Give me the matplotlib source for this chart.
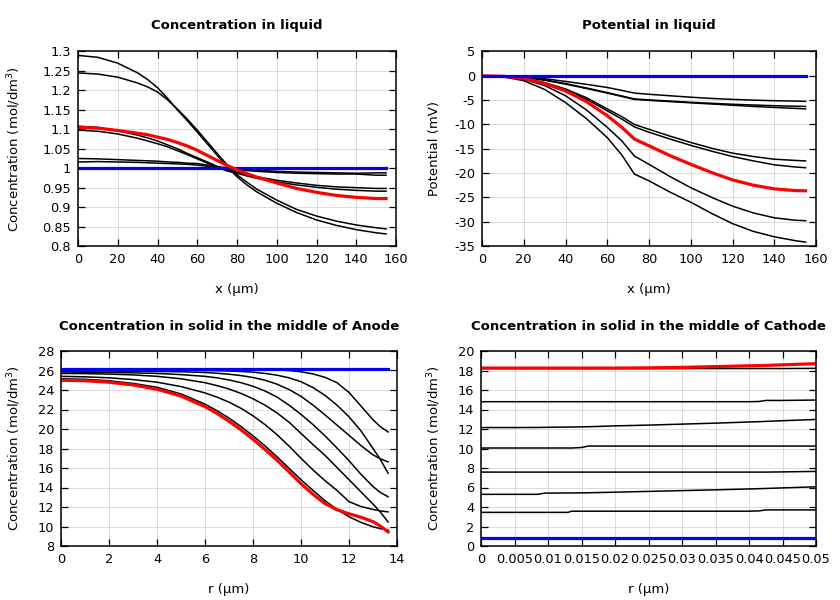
import matplotlib
matplotlib.use("Agg")
import matplotlib.pyplot as plt
from matplotlib.ticker import FormatStrFormatter, MultipleLocator

plt.rcParams['font.family'] = ['DejaVu Sans']
plt.rcParams['axes.unicode_minus'] = False

# ---------------- Concentration in liquid ----------------
liq_x = [0, 10, 20, 30, 35, 40, 45, 50, 55, 60, 65, 70, 75, 80, 85, 90, 100, 110, 120, 130, 140, 150, 155]
liq_blue = [1.0] * len(liq_x)
liq_red = [1.105, 1.103, 1.097, 1.09, 1.086, 1.08, 1.074, 1.066, 1.057, 1.046, 1.033, 1.02, 1.007, 0.996, 0.986, 0.977, 0.962, 0.948, 0.938, 0.93, 0.925, 0.922, 0.922]
liq_black = [
    [1.29, 1.285, 1.27, 1.245, 1.228, 1.207, 1.18, 1.15, 1.122, 1.093, 1.063, 1.033, 1.004, 0.978, 0.957, 0.939, 0.91, 0.886, 0.867, 0.853, 0.842, 0.834, 0.831],
    [1.245, 1.242, 1.234, 1.219, 1.209, 1.196, 1.176, 1.152, 1.126, 1.098, 1.068, 1.038, 1.009, 0.983, 0.964, 0.946, 0.918, 0.894, 0.877, 0.864, 0.854, 0.847, 0.844],
    [1.108, 1.105, 1.096, 1.085, 1.078, 1.07, 1.06, 1.05, 1.038, 1.027, 1.016, 1.005, 0.996, 0.99, 0.984, 0.978, 0.969, 0.962, 0.956, 0.952, 0.95, 0.948, 0.948],
    [1.098, 1.095, 1.088, 1.077, 1.07, 1.063, 1.055, 1.045, 1.035, 1.024, 1.013, 1.002, 0.993, 0.987, 0.98, 0.974, 0.965, 0.957, 0.951, 0.946, 0.943, 0.941, 0.941],
    [1.025, 1.024, 1.022, 1.02, 1.019, 1.018, 1.016, 1.015, 1.013, 1.012, 1.008, 1.004, 1.001, 0.998, 0.996, 0.995, 0.992, 0.99, 0.989, 0.988, 0.987, 0.988, 0.988],
    [1.016, 1.017, 1.016, 1.015, 1.014, 1.013, 1.012, 1.011, 1.01, 1.008, 1.005, 1.002, 0.999, 0.996, 0.994, 0.992, 0.989, 0.987, 0.986, 0.985, 0.985, 0.982, 0.982],
]

# ---------------- Potential in liquid ----------------
pot_x = [0, 10, 20, 30, 40, 50, 60, 67, 73, 80, 90, 100, 110, 120, 130, 140, 150, 155]
pot_blue = [0.0] * len(pot_x)
pot_red = [0, -0.1, -0.5, -1.6, -3.1, -5.3, -8.2, -10.6, -13.0, -14.4, -16.4, -18.2, -19.9, -21.4, -22.5, -23.25, -23.6, -23.65]
pot_black = [
    [0, -0.02, -0.2, -0.6, -1.15, -1.75, -2.4, -3.0, -3.55, -3.8, -4.1, -4.4, -4.65, -4.85, -5.0, -5.12, -5.2, -5.25],
    [0, -0.05, -0.3, -0.85, -1.6, -2.5, -3.45, -4.15, -4.75, -4.95, -5.2, -5.45, -5.65, -5.85, -6.0, -6.15, -6.25, -6.3],
    [0, -0.05, -0.32, -0.9, -1.7, -2.6, -3.55, -4.25, -4.85, -5.05, -5.3, -5.55, -5.8, -6.05, -6.3, -6.5, -6.7, -6.8],
    [0, -0.1, -0.5, -1.4, -2.7, -4.5, -6.8, -8.4, -10.0, -11.0, -12.4, -13.7, -14.9, -15.9, -16.6, -17.15, -17.4, -17.5],
    [0, -0.1, -0.55, -1.5, -2.9, -4.8, -7.2, -8.9, -10.5, -11.6, -13.0, -14.3, -15.5, -16.6, -17.5, -18.3, -18.75, -18.9],
    [0, -0.15, -0.7, -2.0, -4.1, -7.0, -10.6, -13.4, -16.5, -18.2, -20.7, -23.0, -25.0, -26.8, -28.2, -29.2, -29.7, -29.8],
    [0, -0.2, -1.0, -2.8, -5.5, -8.8, -12.7, -16.3, -20.2, -21.6, -23.9, -26.0, -28.3, -30.4, -32.0, -33.1, -33.9, -34.2],
]

# ---------------- Concentration in solid, anode ----------------
an_x = [0, 1, 2, 3, 4, 5, 6, 6.5, 7, 7.5, 8, 8.5, 9, 9.5, 10, 10.5, 11, 11.5, 12, 12.5, 13, 13.3, 13.63]
an_blue = [26.15] * len(an_x)
an_red = [25.0, 24.95, 24.8, 24.52, 24.08, 23.38, 22.3, 21.6, 20.8, 19.92, 18.95, 17.9, 16.8, 15.6, 14.4, 13.3, 12.35, 11.72, 11.3, 10.95, 10.5, 10.05, 9.45]
an_black = [
    [26.12, 26.12, 26.12, 26.12, 26.12, 26.12, 26.12, 26.12, 26.11, 26.11, 26.1, 26.08, 26.05, 26.0, 25.87, 25.65, 25.3, 24.75, 23.75, 22.35, 20.95, 20.25, 19.7],
    [26.05, 26.05, 26.05, 26.05, 26.05, 26.03, 26.0, 25.98, 25.95, 25.9, 25.83, 25.7, 25.52, 25.25, 24.85, 24.25, 23.45, 22.45, 21.25, 19.8, 18.0, 16.9, 15.46],
    [25.95, 25.95, 25.95, 25.93, 25.9, 25.87, 25.8, 25.72, 25.62, 25.48, 25.28, 25.0, 24.6, 24.05, 23.35, 22.45, 21.45, 20.4, 19.35, 18.3, 17.35, 16.95, 16.62],
    [25.85, 25.83, 25.8, 25.76, 25.7, 25.58, 25.4, 25.25, 25.03, 24.75, 24.38, 23.9, 23.28, 22.45, 21.5, 20.45, 19.3, 18.05, 16.75, 15.35, 14.1, 13.5, 13.05],
    [25.7, 25.68, 25.63, 25.55, 25.4, 25.15, 24.75, 24.45, 24.1, 23.65, 23.1, 22.45, 21.65, 20.7, 19.55, 18.4, 17.3, 16.05, 14.8, 13.55, 12.3, 11.5, 10.47],
    [25.4, 25.35, 25.25, 25.07, 24.8, 24.35, 23.7, 23.27, 22.75, 22.12, 21.35, 20.45, 19.42, 18.25, 17.0, 15.8, 14.7, 13.7, 12.55, 12.05, 11.75, 11.6, 11.5],
    [25.15, 25.1, 24.95, 24.68, 24.28, 23.6, 22.55, 21.88, 21.12, 20.25, 19.3, 18.27, 17.15, 15.97, 14.8, 13.7, 12.65, 11.75, 11.0, 10.42, 9.97, 9.78, 9.62],
]

# ---------------- Concentration in solid, cathode ----------------
ca_x = [0, 0.005, 0.0085, 0.0095, 0.013, 0.0135, 0.015, 0.016, 0.02, 0.025, 0.03, 0.035, 0.04, 0.0415, 0.0425, 0.045, 0.05]
ca_blue = [0.85] * len(ca_x)
ca_red = [18.25, 18.25, 18.25, 18.25, 18.25, 18.25, 18.25, 18.25, 18.25, 18.27, 18.32, 18.4, 18.48, 18.5, 18.52, 18.58, 18.7]
ca_black = [
    [18.2, 18.2, 18.2, 18.2, 18.2, 18.2, 18.2, 18.2, 18.2, 18.2, 18.2, 18.2, 18.2, 18.2, 18.2, 18.2, 18.22],
    [14.8, 14.8, 14.8, 14.8, 14.8, 14.8, 14.8, 14.8, 14.8, 14.8, 14.8, 14.8, 14.8, 14.82, 14.93, 14.93, 14.97],
    [12.15, 12.15, 12.16, 12.17, 12.2, 12.2, 12.22, 12.23, 12.32, 12.4, 12.5, 12.6, 12.72, 12.75, 12.78, 12.85, 12.98],
    [10.05, 10.05, 10.05, 10.05, 10.05, 10.05, 10.1, 10.25, 10.25, 10.25, 10.25, 10.25, 10.25, 10.25, 10.25, 10.25, 10.25],
    [7.58, 7.58, 7.58, 7.58, 7.58, 7.58, 7.58, 7.58, 7.58, 7.58, 7.58, 7.58, 7.58, 7.58, 7.58, 7.6, 7.65],
    [5.3, 5.3, 5.3, 5.42, 5.44, 5.44, 5.45, 5.46, 5.52, 5.6, 5.68, 5.76, 5.85, 5.88, 5.9, 5.96, 6.07],
    [3.45, 3.45, 3.45, 3.45, 3.45, 3.57, 3.57, 3.57, 3.57, 3.57, 3.57, 3.57, 3.57, 3.6, 3.7, 3.7, 3.7],
]

titles = ["Concentration in liquid", "Potential in liquid",
          "Concentration in solid in the middle of Anode",
          "Concentration in solid in the middle of Cathode"]
xlabels = ["x (µm)", "x (µm)", "r (µm)", "r (µm)"]
ylabels = ["Concentration (mol/dm$^3$)", "Potential (mV)",
           "Concentration (mol/dm$^3$)", "Concentration (mol/dm$^3$)"]

fig = plt.figure(figsize=(8.4, 6.0), dpi=100)
W, H = 840.0, 600.0

# (left, right, top, bottom) in pixels, plus title y, xlabel y, ylabel x
boxes = [
    (78, 396, 51.5, 246, 26, 289, 14),
    (482, 816, 51.5, 246, 26, 289, 434),
    (61, 397, 351, 546, 326, 589, 14),
    (481, 816, 351, 546, 326, 589, 434),
]

axes = []
for i, (l, r, t, b, ty, xly, ylx) in enumerate(boxes):
    ax = fig.add_axes([l / W, 1 - b / H, (r - l) / W, (b - t) / H])
    axes.append(ax)
    fig.text((l + r) / 2 / W, 1 - ty / H, titles[i], ha='center', va='center',
             fontsize=9.5, fontweight='bold')
    fig.text((l + r) / 2 / W, 1 - xly / H, xlabels[i], ha='center', va='center', fontsize=9.5)
    fig.text(ylx / W, 1 - (t + b) / 2 / H, ylabels[i], ha='center', va='center',
             rotation=90, fontsize=9.5)

ax1, ax2, ax3, ax4 = axes

BLW = 1.1
CLW = 2.3

def style(ax, xlim, ylim, xstep, ystep):
    ax.set_xlim(*xlim)
    ax.set_ylim(*ylim)
    ax.xaxis.set_major_locator(MultipleLocator(xstep))
    ax.yaxis.set_major_locator(MultipleLocator(ystep))
    ax.xaxis.set_major_formatter(FormatStrFormatter('%g'))
    ax.yaxis.set_major_formatter(FormatStrFormatter('%g'))
    ax.grid(True, color='#d4d4d4', linewidth=0.6)
    ax.set_axisbelow(True)
    ax.tick_params(direction='in', top=True, right=True, length=5, width=0.9,
                   labelsize=9.3, pad=5)
    for s in ax.spines.values():
        s.set_linewidth(1.1)

for ys in liq_black:
    ax1.plot(liq_x, ys, color='black', lw=BLW)
ax1.plot(liq_x, liq_blue, color='#0000ff', lw=CLW)
ax1.plot(liq_x, liq_red, color='#ff0000', lw=CLW)
style(ax1, (0, 160), (0.8, 1.3), 20, 0.05)

for ys in pot_black:
    ax2.plot(pot_x, ys, color='black', lw=BLW)
ax2.plot(pot_x, pot_red, color='#ff0000', lw=CLW)
ax2.plot(pot_x, pot_blue, color='#0000ff', lw=CLW)
style(ax2, (0, 160), (-35, 5), 20, 5)

for ys in an_black:
    ax3.plot(an_x, ys, color='black', lw=BLW)
ax3.plot(an_x, an_blue, color='#0000ff', lw=CLW)
ax3.plot(an_x, an_red, color='#ff0000', lw=CLW)
style(ax3, (0, 14), (8, 28), 2, 2)

for ys in ca_black:
    ax4.plot(ca_x, ys, color='black', lw=BLW)
ax4.plot(ca_x, ca_blue, color='#0000ff', lw=CLW)
ax4.plot(ca_x, ca_red, color='#ff0000', lw=CLW)
style(ax4, (0, 0.05), (0, 20), 0.005, 2)

fig.savefig("out.png", dpi=100)
